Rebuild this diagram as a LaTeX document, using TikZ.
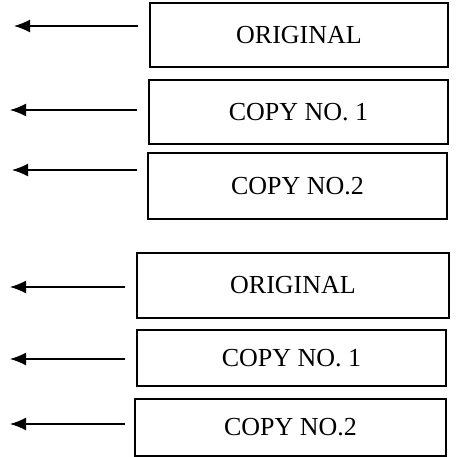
\documentclass[tikz,border=0pt]{standalone}
\usepackage{fontspec}
\setmainfont{Liberation Serif}
\usepackage{tikz}
\usetikzlibrary{%
  arrows.meta,%
  calc%
}
\tikzset{
  copybox/.style={draw, line width=1.2pt, fontsize, inner sep=0pt},
  fontsize/.style={font=\fontsize{26}{30}\selectfont},
  pointer/.style={line width=1.4pt, -{Latex[length=16pt,width=13pt]}}
}

\begin{document}
\begin{tikzpicture}[x=1pt, y=-1pt]
\useasboundingbox (0,0) rectangle (455,457);

% first set
\node[copybox, minimum width=298pt, minimum height=64pt] (orig1) at (299,35) {ORIGINAL};
\node[copybox, minimum width=299pt, minimum height=64pt] (copyA1) at (298.5,112) {COPY NO. 1};
\node[copybox, minimum width=299pt, minimum height=66pt] (copyB1) at (297.5,186) {COPY NO.2};

% second set
\node[copybox, minimum width=312pt, minimum height=65pt] (orig2) at (293,285.5) {ORIGINAL};
\node[copybox, minimum width=309pt, minimum height=56pt] (copyA2) at (291.5,358) {COPY NO. 1};
\node[copybox, minimum width=311pt, minimum height=57pt] (copyB2) at (290.5,427.5) {COPY NO.2};

% arrow ends
\coordinate (s1) at (138,26);  \coordinate (t1) at (14,26);
\coordinate (s2) at (137,110); \coordinate (t2) at (10,110);
\coordinate (s3) at (137,170); \coordinate (t3) at (12,170);
\coordinate (s4) at (125,287); \coordinate (t4) at (10,287);
\coordinate (s5) at (125,359); \coordinate (t5) at (10,359);
\coordinate (s6) at (125,424); \coordinate (t6) at (10,424);

\draw[pointer] (s1) -- (t1);
\draw[pointer] (s2) -- (t2);
\draw[pointer] (s3) -- (t3);
\draw[pointer] (s4) -- (t4);
\draw[pointer] (s5) -- (t5);
\draw[pointer] (s6) -- (t6);
\end{tikzpicture}
\end{document}
